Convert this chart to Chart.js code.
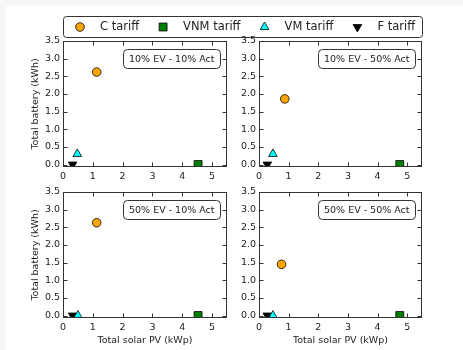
<!DOCTYPE html>
<html>
<head>
<meta charset="utf-8">
<script src="https://cdn.jsdelivr.net/npm/chart.js@4.4.1/dist/chart.umd.min.js"></script>
<style>
  html, body { margin: 0; padding: 0; background: #f7f7f7; }
  #page { position: relative; width: 463px; height: 350px; overflow: hidden; }
  #sheet { position: absolute; left: 6px; top: 6px; right: 0; bottom: 0; background: #fff; }
  canvas { position: absolute; left: 0; top: 0; }
</style>
</head>
<body>
<div id="page">
  <div id="sheet"></div>
  <canvas id="p0" width="463" height="350"></canvas>
  <canvas id="p1" width="463" height="350"></canvas>
  <canvas id="p2" width="463" height="350"></canvas>
  <canvas id="p3" width="463" height="350"></canvas>
</div>
<script>
// panels, in reading order
const panelTitles = ['10% EV - 10% Act', '10% EV - 50% Act', '50% EV - 10% Act', '50% EV - 50% Act'];
const tariffs = ['C tariff', 'VNM tariff', 'VM tariff', 'F tariff'];

// solar PV (kWp) and battery (kWh) per panel, one pair per tariff
const pvC    = [1.13, 0.87, 1.13, 0.76];
const batC   = [2.62, 1.86, 2.63, 1.45];
const pvVNM  = [4.53, 4.75, 4.53, 4.75];
const batVNM = [0, 0, 0, 0];
const pvVM   = [0.48, 0.47, 0.50, 0.47];
const batVM  = [0.30, 0.30, 0, 0];
const pvF    = [0.32, 0.28, 0.32, 0.28];
const batF   = [0, 0, 0, 0];

const xTicks = [0, 1, 2, 3, 4, 5];
const yTicks = [0, 0.5, 1.0, 1.5, 2.0, 2.5, 3.0, 3.5];

const series = [[pvC, batC], [pvVNM, batVNM], [pvVM, batVM], [pvF, batF]];
const markers = [
  { pointStyle: 'circle',   radius: 4.3, rotation: 0,   color: '#ffa500' },
  { pointStyle: 'rect',     radius: 5.6, rotation: 0,   color: '#008000' },
  { pointStyle: 'triangle', radius: 5.0, rotation: 0,   color: '#00ffff' },
  { pointStyle: 'triangle', radius: 5.0, rotation: 180, color: '#000000' },
];

// plot areas in page pixels
const boxes = [
  { left: 63,  top: 41,  right: 227, bottom: 167 },
  { left: 259, top: 41,  right: 422, bottom: 167 },
  { left: 63,  top: 192, right: 227, bottom: 318 },
  { left: 259, top: 192, right: 422, bottom: 318 },
];

Chart.defaults.font.family = "'DejaVu Sans', sans-serif";
Chart.defaults.font.size = 9.5;
Chart.defaults.color = '#222';

function corners(r) {
  return { topLeft: r, topRight: r, bottomLeft: r, bottomRight: r };
}

const frame = {
  id: 'frame',
  afterDraw(chart, args, opts) {
    const { ctx, chartArea: a, scales: { x, y } } = chart;
    ctx.save();
    ctx.strokeStyle = '#333';
    ctx.lineWidth = 1;
    const L = Math.round(a.left) + 0.5, T = Math.round(a.top) + 0.5;
    const R = Math.round(a.right) - 0.5, B = Math.round(a.bottom) - 0.5;
    ctx.strokeRect(L, T, R - L, B - T);
    ctx.beginPath();
    x.ticks.forEach(t => {
      const px = Math.round(x.getPixelForValue(t.value)) + 0.5;
      ctx.moveTo(px, B); ctx.lineTo(px, B - 4);
      ctx.moveTo(px, T); ctx.lineTo(px, T + 4);
    });
    y.ticks.forEach(t => {
      const py = Math.round(y.getPixelForValue(t.value)) + 0.5;
      ctx.moveTo(L, py); ctx.lineTo(L + 4, py);
      ctx.moveTo(R, py); ctx.lineTo(R - 4, py);
    });
    ctx.stroke();

    // panel label, boxed, top right
    ctx.font = "9.5px 'DejaVu Sans'";
    const tw = ctx.measureText(opts.text).width;
    const bw = Math.round(tw + 11), bh = 19;
    const bx = Math.round(a.right - 7 - bw) + 0.5, by = Math.round(a.top + 8) + 0.5;
    ctx.beginPath();
    Chart.helpers.addRoundedRectPath(ctx, { x: bx, y: by, w: bw, h: bh, radius: corners(4) });
    ctx.fillStyle = '#fff';
    ctx.fill();
    ctx.stroke();
    ctx.fillStyle = '#222';
    ctx.textBaseline = 'middle';
    ctx.textAlign = 'left';
    ctx.fillText(opts.text, bx + 5.5, by + bh / 2 + 0.5);
    ctx.restore();
  }
};

const legendBox = {
  id: 'legendBox',
  afterDraw(chart) {
    const ctx = chart.ctx;
    ctx.save();
    ctx.strokeStyle = '#333';
    ctx.lineWidth = 1;
    ctx.beginPath();
    Chart.helpers.addRoundedRectPath(ctx, { x: 63.5, y: 16.5, w: 359, h: 21, radius: corners(3) });
    ctx.fillStyle = '#fff';
    ctx.fill();
    ctx.stroke();
    ctx.font = "11.5px 'DejaVu Sans'";
    ctx.textBaseline = 'middle';
    ctx.textAlign = 'left';
    let x = 80;
    const yc = 27;
    tariffs.forEach((name, k) => {
      const m = markers[k];
      ctx.fillStyle = m.color;
      ctx.strokeStyle = '#000';
      ctx.lineWidth = 0.8;
      Chart.helpers.drawPoint(ctx, { pointStyle: m.pointStyle, radius: m.radius, rotation: m.rotation, borderWidth: 0.8 }, x, yc);
      ctx.fillStyle = '#222';
      ctx.fillText(name, x + 20, yc + 0.5);
      x += 20 + ctx.measureText(name).width + 24;
    });
    ctx.restore();
  }
};

function makePanel(i) {
  const b = boxes[i];
  const isBottom = i >= 2, isLeft = i % 2 === 0;
  const yW = 33, xH = isBottom ? 28 : 20;
  const datasets = tariffs.map((name, k) => ({
    label: name,
    data: [{ x: series[k][0][i], y: series[k][1][i] }],
    pointStyle: markers[k].pointStyle,
    pointRadius: markers[k].radius,
    pointRotation: markers[k].rotation,
    backgroundColor: markers[k].color,
    borderColor: '#000',
    borderWidth: 0.8,
    clip: 0,
  }));
  return new Chart(document.getElementById('p' + i), {
    type: 'scatter',
    data: { datasets },
    plugins: i === 0 ? [frame, legendBox] : [frame],
    options: {
      responsive: false,
      animation: false,
      devicePixelRatio: 1,
      layout: {
        autoPadding: false,
        padding: { left: b.left - yW, top: b.top, right: 463 - b.right, bottom: 350 - b.bottom - xH }
      },
      plugins: {
        legend: { display: false },
        tooltip: { enabled: false },
        frame: { text: panelTitles[i] },
      },
      scales: {
        x: {
          type: 'linear', min: 0, max: 5.5,
          afterBuildTicks: s => { s.ticks = xTicks.map(v => ({ value: v })); },
          afterFit: s => { s.height = xH; },
          grid: { display: false, drawTicks: false },
          border: { display: false },
          ticks: { padding: 4, maxRotation: 0, autoSkip: false, callback: v => String(v) },
          title: { display: isBottom, text: 'Total solar PV (kWp)', padding: 0 },
        },
        y: {
          type: 'linear', min: -0.07, max: 3.5,
          afterBuildTicks: s => { s.ticks = yTicks.map(v => ({ value: v })); },
          afterFit: s => { s.width = yW; },
          grid: { display: false, drawTicks: false },
          border: { display: false },
          ticks: { padding: 3, autoSkip: false, callback: v => v.toFixed(1) },
          title: { display: isLeft, text: 'Total battery (kWh)', padding: 0 },
        }
      }
    }
  });
}

[0, 1, 2, 3].forEach(makePanel);
</script>
</body>
</html>
